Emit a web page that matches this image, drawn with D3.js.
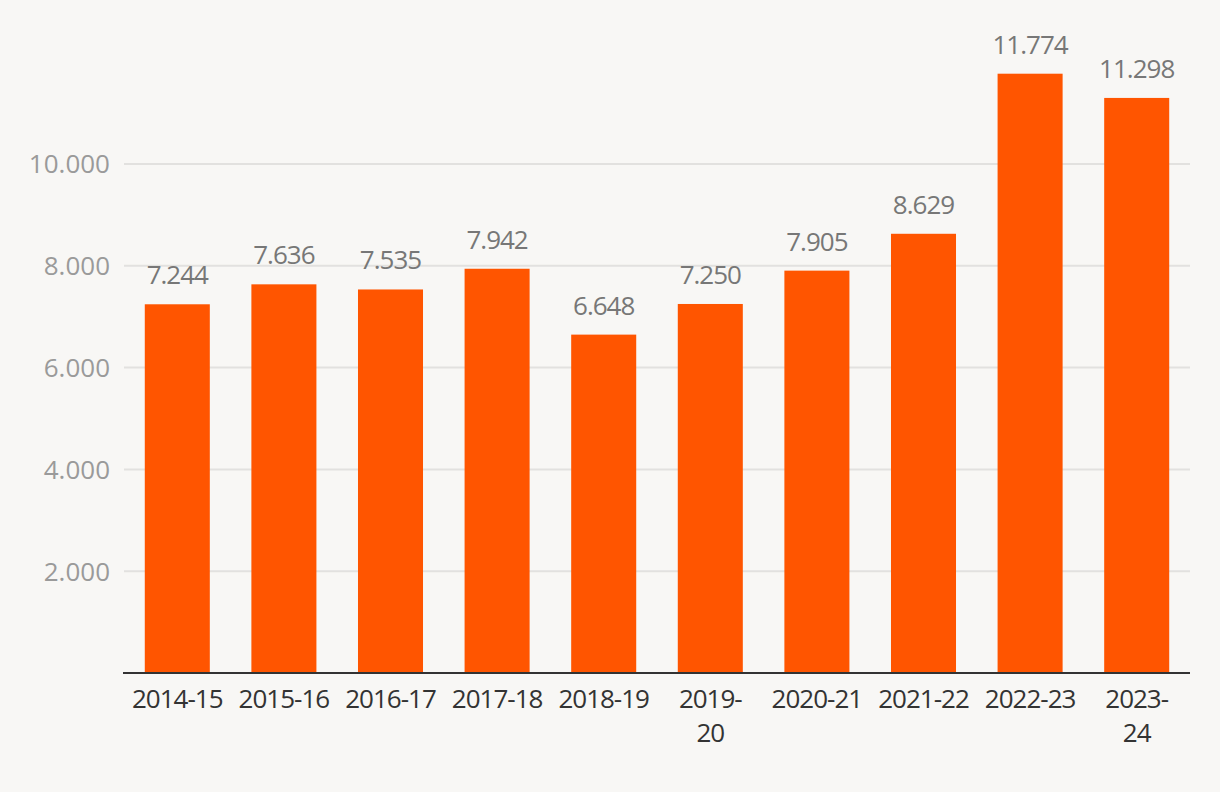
<!DOCTYPE html>
<html><head><meta charset="utf-8">
<script src="https://cdn.jsdelivr.net/npm/d3@7"></script>
<style>
html,body{margin:0;padding:0;background:#f8f7f5;}
svg{display:block;font-family:"Open Sans",sans-serif;}
</style></head>
<body><svg id="c" width="1220" height="792"></svg>
<script>
const categories = ["2014-15","2015-16","2016-17","2017-18","2018-19","2019-20","2020-21","2021-22","2022-23","2023-24"];
const xTickLines = [["2014-15"],["2015-16"],["2016-17"],["2017-18"],["2018-19"],["2019-","20"],["2020-21"],["2021-22"],["2022-23"],["2023-","24"]];
const values = [7244,7636,7535,7942,6648,7250,7905,8629,11774,11298];
const yTicks = [2000,4000,6000,8000,10000];

const fmt = v => d3.format(",")(v).replace(/,/g,".");
const svg = d3.select("#c");
const x = d3.scaleBand().domain(categories).range([124,1190]).paddingInner(0.39).paddingOuter(0.195);
const y = d3.scaleLinear().domain([0,10000]).range([673,164]);

// grid
svg.append("g").selectAll("line").data(yTicks).join("line")
  .attr("x1",124).attr("x2",1190).attr("y1",d=>y(d)).attr("y2",d=>y(d))
  .attr("stroke","#e2e1df").attr("stroke-width",2);
svg.append("g").selectAll("text").data(yTicks).join("text")
  .attr("x",110).attr("y",d=>y(d)).attr("dy","0.36em").attr("text-anchor","end")
  .attr("fill","#9a9a9a").attr("font-size",26)
  .text(fmt);

// bars
svg.append("g").selectAll("rect").data(values).join("rect")
  .attr("x",(d,i)=>x(categories[i])).attr("width",x.bandwidth())
  .attr("y",d=>y(d)).attr("height",d=>y(0)-y(d)).attr("fill","#ff5500");

// value labels
svg.append("g").selectAll("text").data(values).join("text")
  .attr("x",(d,i)=>x(categories[i])+x.bandwidth()/2).attr("y",d=>y(d)-20)
  .attr("text-anchor","middle").attr("fill","#777").attr("font-size",26)
  .attr("letter-spacing",-1)
  .text(fmt);

// axis baseline
svg.append("line").attr("x1",123).attr("x2",1190).attr("y1",y(0)).attr("y2",y(0))
  .attr("stroke","#333").attr("stroke-width",2);

// x labels
const xl = svg.append("g").selectAll("text").data(xTickLines).join("text")
  .attr("text-anchor","middle").attr("fill","#333").attr("font-size",26)
  .attr("letter-spacing",-1);
xl.selectAll("tspan").data((d,i)=>d.map(t=>({t,i}))).join("tspan")
  .attr("x",d=>x(categories[d.i])+x.bandwidth()/2)
  .attr("y",(d,j)=>708+j*34).text(d=>d.t);
</script></body></html>
